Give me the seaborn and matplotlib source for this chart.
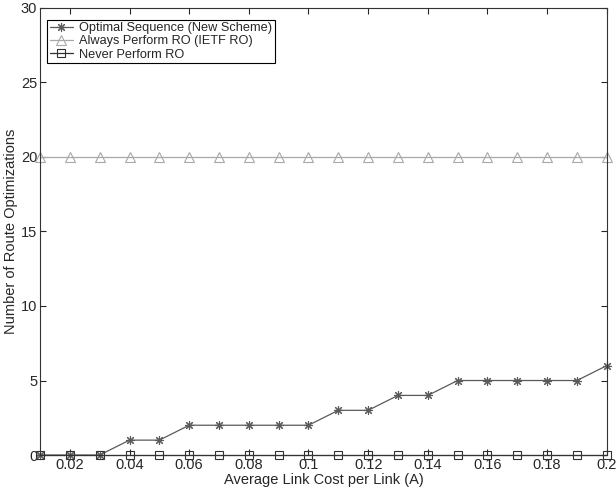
import numpy as np
import pandas as pd
import matplotlib
matplotlib.use('Agg')
import matplotlib.pyplot as plt
import seaborn as sns

# Data
link_cost = [0.01, 0.02, 0.03, 0.04, 0.05, 0.06, 0.07, 0.08, 0.09, 0.10,
             0.11, 0.12, 0.13, 0.14, 0.15, 0.16, 0.17, 0.18, 0.19, 0.20]
optimal_ro = [0, 0, 0, 1, 1, 2, 2, 2, 2, 2, 3, 3, 4, 4, 5, 5, 5, 5, 5, 6]
always_ro = [20] * 20
never_ro = [0] * 20

series_names = ['Optimal Sequence (New Scheme)', 'Always Perform RO (IETF RO)', 'Never Perform RO']
series_values = [optimal_ro, always_ro, never_ro]

sns.set_style("ticks")
plt.rcParams['font.family'] = ['Liberation Sans', 'DejaVu Sans']
plt.rcParams['font.size'] = 10.5
plt.rcParams['xtick.direction'] = 'in'
plt.rcParams['ytick.direction'] = 'in'

colors = ['#5a5a5a', '#a8a8a8', '#303030']
markers = [(8, 2, 0), '^', 's']
msizes = [6.5, 7.5, 5.5]

fig = plt.figure(figsize=(6.16, 4.93), dpi=100)
ax = fig.add_axes([0.065, 0.077, 0.92, 0.907])
for name, vals, c, m, ms in zip(series_names, series_values, colors, markers, msizes):
    d = pd.DataFrame({'cost': link_cost, 'ro': vals})
    sns.lineplot(data=d, x='cost', y='ro', color=c, marker=m, markersize=ms,
                 markerfacecolor='none', markeredgecolor=c, markeredgewidth=0.8,
                 linewidth=0.9, label=name, ax=ax)

ax.set_xlim(0.01, 0.2)
ax.set_ylim(0, 30)
ax.set_xticks([0.02, 0.04, 0.06, 0.08, 0.1, 0.12, 0.14, 0.16, 0.18, 0.2])
ax.set_xticklabels(['0.02', '0.04', '0.06', '0.08', '0.1', '0.12', '0.14', '0.16', '0.18', '0.2'])
ax.set_yticks([0, 5, 10, 15, 20, 25, 30])
ax.tick_params(top=True, right=True, length=4, width=0.8, pad=2)
for s in ax.spines.values():
    s.set_linewidth(0.8)
    s.set_color('#333333')
ax.set_xlabel('Average Link Cost per Link (A)', labelpad=1)
ax.set_ylabel('Number of Route Optimizations', labelpad=2)

leg = ax.legend(loc='upper left', fancybox=False, edgecolor='black', framealpha=1,
                fontsize=9.2, borderpad=0.2, labelspacing=0.1, handlelength=1.8,
                handletextpad=0.5, borderaxespad=0, bbox_to_anchor=(0.0125, 0.974))
leg.get_frame().set_linewidth(0.8)

for line in ax.get_lines():
    line.set_clip_on(False)

fig.savefig('out.png', dpi=100)
